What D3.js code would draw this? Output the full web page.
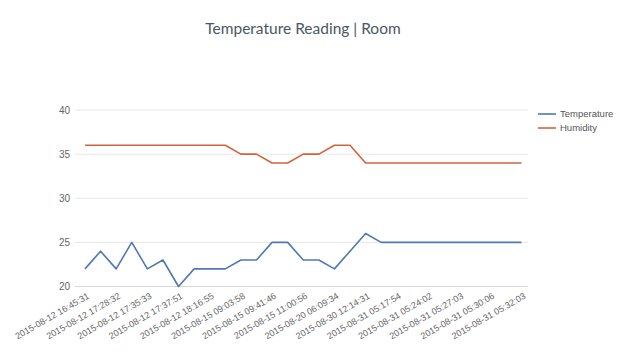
<!DOCTYPE html>
<html>
<head>
<meta charset="utf-8">
<script src="https://cdn.jsdelivr.net/npm/d3@7"></script>
<style>
  body { margin: 0; background: #fff; }
  #chart text { font-family: "Liberation Sans", Arial, sans-serif; }
</style>
</head>
<body>
<div id="chart"></div>
<script>
// Tick labels shown under every second reading
const timeLabels = [
  "2015-08-12 16:45:31", "2015-08-12 17:28:32", "2015-08-12 17:35:33",
  "2015-08-12 17:37:51", "2015-08-12 18:16:55", "2015-08-15 09:03:58",
  "2015-08-15 09:41:46", "2015-08-15 11:00:56", "2015-08-20 06:09:34",
  "2015-08-30 12:14:31", "2015-08-31 05:17:54", "2015-08-31 05:24:02",
  "2015-08-31 05:27:03", "2015-08-31 05:30:06", "2015-08-31 05:32:03"
];

const temperature = [22, 24, 22, 25, 22, 23, 20, 22, 22, 22, 23, 23, 25, 25, 23,
  23, 22, 24, 26, 25, 25, 25, 25, 25, 25, 25, 25, 25, 25];
const humidity = [36, 36, 36, 36, 36, 36, 36, 36, 36, 36, 35, 35, 34, 34, 35,
  35, 36, 36, 34, 34, 34, 34, 34, 34, 34, 34, 34, 34, 34];

const yTicks = [20, 25, 30, 35, 40];

const series = [
  { name: "Temperature", values: temperature, color: "#5078b5" },
  { name: "Humidity", values: humidity, color: "#d3633f" }
];

const width = 620, height = 361;
const svg = d3.select("#chart").append("svg")
  .attr("width", width)
  .attr("height", height);

// Title
svg.append("text")
  .attr("x", 303)
  .attr("y", 34)
  .attr("text-anchor", "middle")
  .style("font-family", "Lato, sans-serif")
  .style("font-size", "15.5px")
  .style("fill", "#4a5764")
  .text("Temperature Reading | Room");

// Scales
const xScale = d3.scalePoint()
  .domain(d3.range(temperature.length))
  .range([85, 521.5]);

const yScale = d3.scaleLinear()
  .domain([20, 40])
  .range([286.5, 110]);

// Gridlines
svg.append("g")
  .selectAll("line")
  .data(yTicks)
  .enter()
  .append("line")
  .attr("x1", 75)
  .attr("x2", 528)
  .attr("y1", d => yScale(d))
  .attr("y2", d => yScale(d))
  .attr("stroke", d => d === 20 ? "#d8d8d8" : "#e8e8e8")
  .attr("stroke-width", 1);

// y-axis labels
const yAxis = svg.append("g")
  .attr("transform", "translate(70,0)")
  .call(d3.axisLeft(yScale).tickValues(yTicks).tickSize(0).tickPadding(0));
yAxis.select(".domain").remove();
yAxis.selectAll("text")
  .style("font-size", "10px")
  .style("fill", "#666");

// x-axis labels, rotated
const xAxis = svg.append("g")
  .attr("transform", "translate(0,292)")
  .call(d3.axisBottom(xScale)
    .tickValues(d3.range(0, temperature.length, 2))
    .tickFormat(i => timeLabels[i / 2])
    .tickSize(0)
    .tickPadding(0));
xAxis.select(".domain").remove();
xAxis.selectAll("text")
  .attr("transform", "rotate(-30)")
  .attr("dy", "0.8em")
  .attr("dx", "0.1em")
  .style("text-anchor", "end")
  .style("font-size", "9px")
  .style("fill", "#666");

// Lines
const line = d3.line()
  .x((d, i) => xScale(i))
  .y(d => yScale(d));

svg.selectAll(".series-line")
  .data(series)
  .enter()
  .append("path")
  .attr("class", "series-line")
  .attr("d", d => line(d.values))
  .attr("fill", "none")
  .attr("stroke", d => d.color)
  .attr("stroke-width", 1.6)
  .attr("stroke-linejoin", "round");

// Legend
const legend = svg.append("g")
  .attr("transform", "translate(538,114)");

legend.selectAll("line")
  .data(series)
  .enter()
  .append("line")
  .attr("x1", 0)
  .attr("x2", 18)
  .attr("y1", (d, i) => i * 14)
  .attr("y2", (d, i) => i * 14)
  .attr("stroke", d => d.color)
  .attr("stroke-width", 1.6);

legend.selectAll("text")
  .data(series)
  .enter()
  .append("text")
  .attr("x", 22)
  .attr("y", (d, i) => i * 14)
  .attr("dy", "0.35em")
  .style("font-size", "9.5px")
  .style("fill", "#555")
  .text(d => d.name);
</script>
</body>
</html>
